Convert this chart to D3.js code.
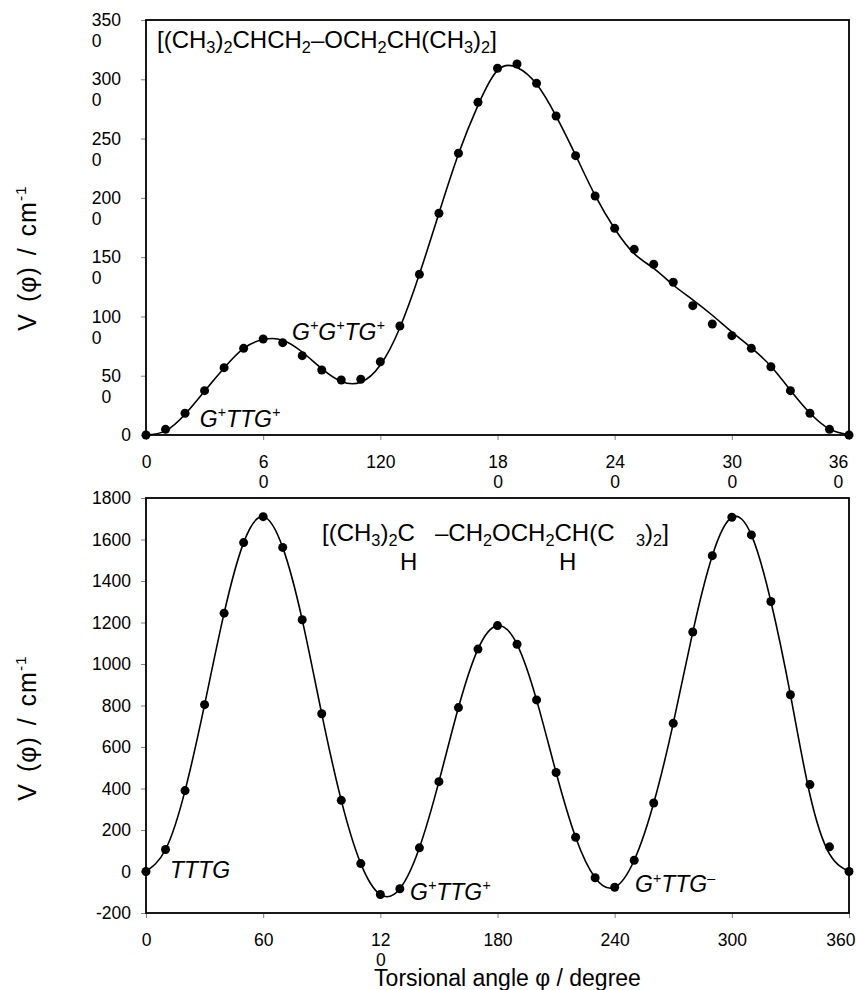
<!DOCTYPE html>
<html>
<head>
<meta charset="utf-8">
<script src="https://cdn.jsdelivr.net/npm/d3@7/dist/d3.min.js"></script>
<style>
  body { margin: 0; background: #fff; }
  svg { display: block; font-family: "Liberation Sans", Arial, sans-serif; }
</style>
</head>
<body>
<div class="chart"></div>
<script>
// torsional angle (degrees) shared by both panels
const angles = [0, 10, 20, 30, 40, 50, 60, 70, 80, 90, 100, 110, 120, 130, 140, 150, 160, 170, 180,
	190, 200, 210, 220, 230, 240, 250, 260, 270, 280, 290, 300, 310, 320, 330, 340, 350, 360];

// upper panel: computed points and fitted curve (cm-1)
const upperPoints = [0, 48, 183, 374, 568, 731, 810, 779, 669, 548, 464, 470, 618, 919, 1355, 1870, 2376,
	2806, 3093, 3129, 2966, 2690, 2356, 2016, 1743, 1566, 1440, 1288, 1091, 936, 838, 731, 576, 374, 183, 48, 0];
const upperFit = [0, 35, 175, 370, 565, 730, 805, 800, 700, 560, 452, 445, 590, 905, 1355, 1870, 2370,
	2780, 3075, 3100, 2960, 2690, 2360, 2020, 1740, 1530, 1405, 1265, 1140, 1010, 870, 735, 580, 378, 185, 50, 0];

// lower panel
const lowerPoints = [0, 106, 390, 804, 1245, 1585, 1710, 1562, 1213, 760, 343, 38, -111, -83, 114, 433, 790,
	1072, 1185, 1095, 827, 477, 165, -30, -76, 54, 330, 714, 1154, 1522, 1707, 1622, 1301, 852, 419, 119, 0];
const lowerFit = [0, 106, 390, 804, 1245, 1585, 1710, 1562, 1213, 760, 343, 38, -111, -83, 114, 433, 790,
	1072, 1185, 1095, 827, 477, 165, -30, -76, 54, 330, 714, 1154, 1522, 1707, 1622, 1301, 852, 370, 85, 0];

// axis ticks and their labels (labels wrap like in the original figure)
const xTicks = [0, 60, 120, 180, 240, 300, 360];
const upperXLabels = ['0', '6\n0', '120', '18\n0', '24\n0', '30\n0', '36\n0'];
const lowerXLabels = ['0', '60', '12\n0', '180', '240', '300', '360'];
const upperYTicks = [0, 500, 1000, 1500, 2000, 2500, 3000, 3500];
const upperYLabels = ['0', '50\n0', '100\n0', '150\n0', '200\n0', '250\n0', '300\n0', '350\n0'];
const lowerYTicks = [-200, 0, 200, 400, 600, 800, 1000, 1200, 1400, 1600, 1800];
const lowerYLabels = ['-200', '0', '200', '400', '600', '800', '1000', '1200', '1400', '1600', '1800'];

// conformer labels, anchored in data units (angle, energy)
const upperNotes = [
	{ angle: 27.5, value: 67, text: 'G^+TTG^+' },
	{ angle: 74.8, value: 801, text: 'G^+G^+TG^+' }
];
const lowerNotes = [
	{ angle: 12.3, value: -29, text: 'TTTG' },
	{ angle: 135.2, value: -135, text: 'G^+TTG^+' },
	{ angle: 250.4, value: -101, text: 'G^+TTG^–' }
];

const margin = { left: 146, right: 7 };
const width = 856 - margin.left - margin.right;
const height = 415;

const svg = d3.select('.chart')
	.append('svg')
		.attr('width', 856)
		.attr('height', 990);

// writes "CH_3" / "cm^{-1}" style strings as tspans
function rich(text, str, size) {
	const re = /([_^])(\{[^}]*\}|.)|([^_^]+)/g;
	let cur = 0, m;
	while ((m = re.exec(str))) {
		if (m[3]) {
			text.append('tspan').attr('dy', -cur).text(m[3]);
			cur = 0;
		} else {
			const s = m[2].replace(/[{}]/g, '');
			const target = m[1] === '_' ? size * 0.22 : -size * 0.42;
			text.append('tspan')
				.attr('dy', target - cur)
				.style('font-size', (m[1] === '_' ? size * 0.68 : size * 0.62) + 'px')
				.text(s);
			cur = target;
		}
	}
}

function drawPanel(cfg) {
	const g = svg.append('g')
		.attr('transform', `translate(${margin.left}, ${cfg.top})`);

	const x = d3.scaleLinear().domain([0, 360]).range([0, width]);
	const y = d3.scaleLinear().domain(cfg.yDomain).range([height, 0]);

	// x axis
	const xAxis = g.append('g')
		.attr('transform', `translate(0, ${height})`)
		.call(d3.axisBottom(x).tickValues(xTicks).tickSizeOuter(0).tickSize(5).tickPadding(16)
			.tickFormat((d, i) => cfg.xLabels[i]));

	// y axis
	const yAxis = g.append('g')
		.call(d3.axisLeft(y).tickValues(cfg.yTicks).tickSizeOuter(0).tickSize(5).tickPadding(10)
			.tickFormat((d, i) => cfg.yLabels[i]));

	g.selectAll('.domain').remove();
	g.selectAll('.tick line').attr('stroke', '#808080');
	g.selectAll('.tick text')
		.attr('fill', '#000')
		.style('font-size', '17.5px')
		.style('font-family', '"Liberation Sans", Arial, sans-serif');

	// wrapped x labels, kept inside the page on the right
	xAxis.selectAll('text').each(function(d, i) {
		const t = d3.select(this);
		const lines = cfg.xLabels[i].split('\n');
		const len = this.getComputedTextLength();
		const over = margin.left + x(d) + len / 2 - 855;
		const dx = over > 0 ? -over : 0;
		t.text(null);
		lines.forEach((ln, j) => t.append('tspan').attr('x', dx).attr('dy', j ? '1.1em' : null).text(ln));
	});

	// wrapped y labels: lines left aligned under the first one
	yAxis.selectAll('text').each(function(d, i) {
		const lines = cfg.yLabels[i].split('\n');
		if (lines.length < 2) return;
		const t = d3.select(this);
		t.text(lines[0]);
		const len = this.getComputedTextLength();
		t.text(null).attr('text-anchor', 'start');
		lines.forEach((ln, j) => t.append('tspan').attr('x', -25 - len).attr('dy', j ? '1.2em' : null).text(ln));
	});

	// plot frame
	g.append('rect')
		.attr('width', width)
		.attr('height', height)
		.attr('fill', 'none')
		.attr('stroke', '#000')
		.attr('stroke-width', 1.8);

	// fitted curve
	const line = d3.line()
		.x((d, i) => x(angles[i]))
		.y(d => y(d))
		.curve(d3.curveNatural);
	g.append('path')
		.datum(cfg.fit)
		.attr('d', line)
		.attr('fill', 'none')
		.attr('stroke', '#000')
		.attr('stroke-width', 1.6);

	// computed points
	g.selectAll('.pt')
		.data(cfg.points)
		.enter()
		.append('circle')
		.attr('class', 'pt')
		.attr('cx', (d, i) => x(angles[i]))
		.attr('cy', d => y(d))
		.attr('r', 4.5)
		.attr('fill', '#000');

	// molecule formula
	cfg.title.forEach(p => {
		const t = g.append('text')
			.attr('x', p.x)
			.attr('y', p.y)
			.style('font-size', '24px');
		rich(t, p.s, 24);
	});

	// conformer labels
	cfg.notes.forEach(n => {
		const t = g.append('text')
			.attr('x', x(n.angle))
			.attr('y', y(n.value))
			.style('font-size', '23px')
			.style('font-style', 'italic');
		rich(t, n.text, 23);
	});

	// y title
	const yt = g.append('text')
		.attr('transform', `translate(${36 - margin.left}, ${cfg.yTitleY}) rotate(-90)`)
		.attr('text-anchor', 'middle')
		.style('font-size', '25px')
		.style('letter-spacing', '1px')
		.style('word-spacing', '3px');
	rich(yt, 'V (φ) / cm^{-1}', 25);

	return { g, x, y };
}

drawPanel({
	top: 20,
	yDomain: [0, 3500],
	yTicks: upperYTicks,
	yLabels: upperYLabels,
	xLabels: upperXLabels,
	points: upperPoints,
	fit: upperFit,
	notes: upperNotes,
	yTitleY: 238,
	title: [{ x: 11, y: 28, s: '[(CH_3)_2CHCH_2–OCH_2CH(CH_3)_2]' }]
});

const lower = drawPanel({
	top: 498,
	yDomain: [-200, 1800],
	yTicks: lowerYTicks,
	yLabels: lowerYLabels,
	xLabels: lowerXLabels,
	points: lowerPoints,
	fit: lowerFit,
	notes: lowerNotes,
	yTitleY: 230,
	title: [
		{ x: 176, y: 43, s: '[(CH_3)_2C' },
		{ x: 289, y: 43, s: '–CH_2OCH_2CH(C' },
		{ x: 490, y: 43, s: '_3)_2]' },
		{ x: 254, y: 72, s: 'H' },
		{ x: 413, y: 72, s: 'H' }
	]
});

// x title
lower.g.append('text')
	.attr('x', width / 2 + 10)
	.attr('y', height + 73)
	.attr('text-anchor', 'middle')
	.style('font-size', '23px')
	.text('Torsional angle φ / degree');
</script>
</body>
</html>
